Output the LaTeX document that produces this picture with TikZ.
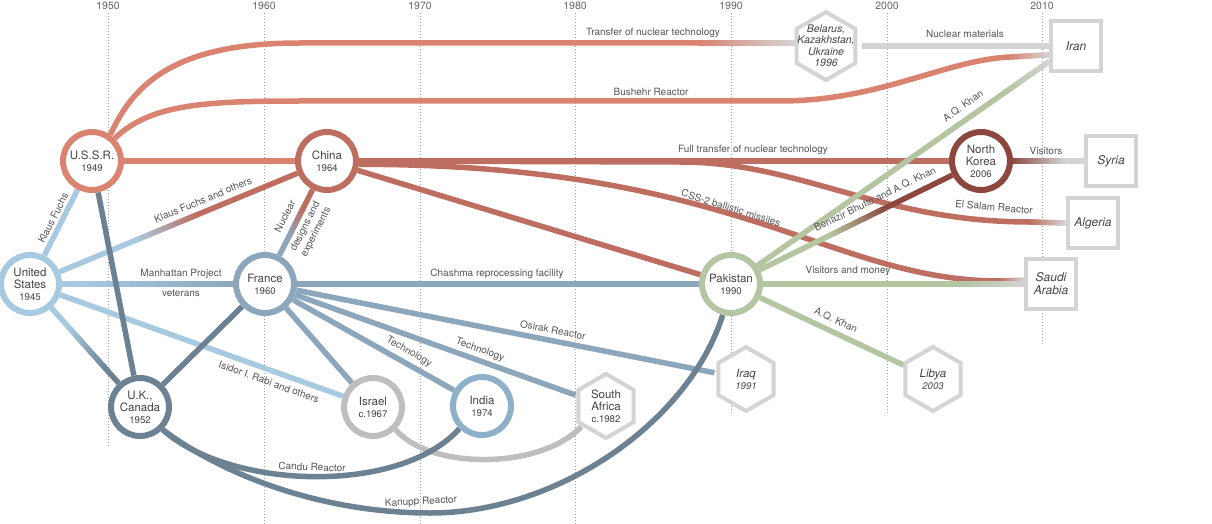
\documentclass[tikz,border=0pt]{standalone}
\usepackage{fontspec}
\setmainfont{TeX Gyre Heros}
\usetikzlibrary{calc}
\pgfdeclarelayer{grid}
\pgfdeclarelayer{edges}
\pgfdeclarelayer{shapes}
\pgfsetlayers{grid,edges,shapes,main}
\definecolor{ussrred}{HTML}{DA8371}
\definecolor{chinared}{HTML}{BE6E60}
\definecolor{nkbrown}{HTML}{8C483E}
\definecolor{pakgreen}{HTML}{B4C5A2}
\definecolor{frblue}{HTML}{8CA6BC}
\definecolor{usblue}{HTML}{A8CAE1}
\definecolor{ukslate}{HTML}{6C8293}
\definecolor{indiablue}{HTML}{8FB0C9}
\definecolor{isgray}{HTML}{BEBEBE}
\definecolor{boxgray}{HTML}{D4D4D4}
\definecolor{gridgray}{HTML}{A0A0A0}
\definecolor{nodetxt}{HTML}{444444}
\definecolor{lbltxt}{HTML}{555555}
\definecolor{yeartxt}{HTML}{666666}

\tikzset{
  conn/.style={line width=5.5pt},
  country/.style={circle, draw, fill=white, line width=6pt, minimum size=58pt, inner sep=0pt,
    align=center, text=nodetxt, font=\fontsize{11.5}{12}\selectfont},
  hexnode/.style={circle, minimum size=64pt, inner sep=0pt, align=center, text=nodetxt,
    font=\fontsize{11.5}{12}\selectfont\itshape},
  boxnode/.style={rectangle, draw=boxgray, fill=white, line width=4.5pt, minimum size=50pt,
    inner sep=0pt, align=center, text=nodetxt, font=\fontsize{12}{13}\selectfont\itshape},
  hexline/.style={draw=boxgray, fill=white, line width=4pt},
  lbl/.style={text=lbltxt, font=\fontsize{10}{12}\selectfont, inner sep=0pt, align=center},
  yearlbl/.style={text=yeartxt, font=\fontsize{10.5}{12}\selectfont, inner sep=0pt},
  gridline/.style={draw=gridgray, line width=0.7pt, dash pattern=on 0.8pt off 2.2pt},
}

\newcommand\yr[1]{{\fontsize{9.6}{12}\selectfont #1}}

% straight connector with a colour gradient between fractions #5 and #6
\newcommand\gradseg[6]{%
  \draw[conn,#3] (#1) -- ($(#1)!#5!(#2)$);%
  \draw[conn,#4] ($(#1)!#6!(#2)$) -- (#2);%
  \foreach \gk in {0,...,23}{%
    \pgfmathsetmacro\gradA{#5+(#6-#5)*(\gk-0.3)/24}%
    \pgfmathsetmacro\gradB{#5+(#6-#5)*(\gk+1.3)/24}%
    \pgfmathtruncatemacro\gradP{100*(\gk+0.5)/24}%
    \draw[conn,color=#4!\gradP!#3] ($(#1)!\gradA!(#2)$) -- ($(#1)!\gradB!(#2)$);%
  }%
}

\newcommand\drawhex[2]{\draw[hexline] ([shift={(90:#2)}]#1) -- ([shift={(30:#2)}]#1)
  -- ([shift={(-30:#2)}]#1) -- ([shift={(-90:#2)}]#1) -- ([shift={(-150:#2)}]#1)
  -- ([shift={(150:#2)}]#1) -- cycle;}

\begin{document}
\begin{tikzpicture}[x=1pt,y=-1pt]
\useasboundingbox (0,0) rectangle (1212,524);

% ---------- year grid ----------
\begin{pgfonlayer}{grid}
\foreach \gx/\gy/\ge in {108/1950/447, 264/1960/524, 420/1970/524, 575/1980/524,
                          731/1990/415, 887/2000/415, 1042/2010/345}{%
  \node[yearlbl] (yr\gy) at (\gx,5.5) {\gy};
  \draw[gridline] (\gx,13) -- (\gx,\ge);
}
\end{pgfonlayer}

% ---------- circle nodes ----------
\node[country,draw=ussrred]   (ussr)     at (92,161)  {U.S.S.R.\\\yr{1949}};
\node[country,draw=chinared]  (china)    at (327,161) {China\\\yr{1964}};
\node[country,draw=nkbrown]   (nk)       at (981,161) {North\\Korea\\\yr{2006}};
\node[country,draw=usblue]    (us)       at (30,284)  {United\\States\\\yr{1945}};
\node[country,draw=frblue]    (france)   at (265,284) {France\\\yr{1960}};
\node[country,draw=pakgreen]  (pakistan) at (731,284) {Pakistan\\\yr{1990}};
\node[country,draw=ukslate]   (uk)       at (140,407) {U.K.,\\Canada\\\yr{1952}};
\node[country,draw=isgray]    (israel)   at (373,407) {Israel\\\yr{c.1967}};
\node[country,draw=indiablue] (india)    at (482,406) {India\\\yr{1974}};

% ---------- hexagon nodes (text) ----------
\node[hexnode,minimum size=68pt,font=\fontsize{10.5}{11.5}\selectfont\itshape]
      (belarus) at (826,46) {Belarus,\\Kazakhstan,\\Ukraine\\1996};
\node[hexnode,font=\fontsize{11.5}{12}\selectfont] (sa) at (606,406) {South\\Africa\\\yr{c.1982}};
\node[hexnode] (iraq)  at (746,379) {Iraq\\\yr{1991}};
\node[hexnode] (libya) at (933,379) {Libya\\\yr{2003}};

% ---------- square nodes ----------
\node[boxnode] (iran)    at (1076,46)  {Iran};
\node[boxnode] (syria)   at (1111,161) {Syria};
\node[boxnode] (algeria) at (1093,223) {Algeria};
\node[boxnode] (saudi)   at (1051,284) {Saudi\\Arabia};

% ---------- connectors ----------
\begin{pgfonlayer}{edges}
% France (blue)
\draw[conn,frblue] (france) -- (pakistan);
\draw[conn,frblue] (france) -- (iraq);
\draw[conn,frblue] (france) -- (sa);
\draw[conn,frblue] (france) -- (india);
\draw[conn,frblue] (france) -- (israel);
\gradseg{france}{china}{frblue}{chinared}{0.38}{0.62}
% United States (light blue)
\draw[conn,usblue] (us) -- (ussr);
\draw[conn,usblue] (us) -- (israel);
\gradseg{us}{china}{usblue}{chinared}{0.36}{0.56}
\gradseg{us}{france}{usblue}{frblue}{0.2}{0.9}
\gradseg{us}{uk}{usblue}{ukslate}{0.35}{0.7}
% U.K./Canada (slate)
\draw[conn,ukslate] (ussr) -- (uk);
\draw[conn,ukslate] (france) -- (uk);
\draw[conn,isgray] (israel.-45) .. controls (430,470) and (540,470) .. (sa.-140);
\draw[conn,ukslate] (uk.-45) .. controls (230,490) and (400,495) .. (india.-135);
\draw[conn,ukslate] (uk.-45) .. controls (230,480) and (330,513) .. (430,513)
                     .. controls (560,513) and (690,420) .. (pakistan.-105);
% U.S.S.R. (red)
\coordinate (tr1) at (700,43);
\coordinate (bel) at ([yshift=3pt]belarus.center);
\draw[conn,ussrred] (ussr.55) .. controls (135,80) and (180,43) .. (300,43) -- (tr1);
\gradseg{tr1}{bel}{ussrred}{boxgray}{0}{0.75}
\draw[conn,boxgray] (belarus) -- (iran.west);
\coordinate (bu1) at (1010,57);
\draw[conn,ussrred] (ussr.45) .. controls (150,105) and (200,101) .. (300,101) -- (780,101)
                     .. controls (880,101) and (945,60) .. (bu1);
\gradseg{bu1}{iran.198}{ussrred}{boxgray}{0}{1}
\draw[conn,ussrred] (ussr) -- (china);
% China (red)
\draw[conn,chinared] (china) -- (nk);
\draw[conn,chinared] (china) -- (pakistan);
\coordinate (es1) at (1030,222);
\draw[conn,chinared] (china.east) -- (680,162) .. controls (800,162) and (880,222) .. (es1);
\gradseg{es1}{algeria.west}{chinared}{boxgray}{0}{1}
\coordinate (cs1) at (1000,281);
\draw[conn,chinared] (china.-6) .. controls (738,164) and (831,281) .. (cs1);
\gradseg{cs1}{saudi.172}{chinared}{boxgray}{0}{1}
% Pakistan (green)
\gradseg{pakistan}{iran.210}{pakgreen}{boxgray}{0.86}{1}
\gradseg{pakistan}{nk}{pakgreen}{nkbrown}{0.4}{0.62}
\gradseg{pakistan}{saudi.west}{pakgreen}{boxgray}{0.8}{1}
\draw[conn,pakgreen] (pakistan) -- (libya);
% North Korea
\gradseg{nk}{syria.west}{nkbrown}{boxgray}{0.3}{0.82}
\end{pgfonlayer}

% ---------- hexagon outlines ----------
\begin{pgfonlayer}{shapes}
\drawhex{belarus.center}{34}
\drawhex{sa.center}{32}
\drawhex{iraq.center}{32}
\drawhex{libya.center}{32}
\end{pgfonlayer}

% ---------- connector labels ----------
\node[lbl] (lTransfer) at (653,33) {Transfer of nuclear technology};
\node[lbl] (lNucMat) at (965,34) {Nuclear materials};
\node[lbl] (lBushehr) at (651,92) {Bushehr Reactor};
\node[lbl] (lFull) at (753,150) {Full transfer of nuclear technology};
\node[lbl,rotate=-17.5] (lCSS) at (731,208) {CSS-2 ballistic missiles};
\node[lbl,rotate=-5] (lElSalam) at (994,207) {El Salam Reactor};
\node[lbl,rotate=35] (lKhanA) at (963,106) {A.Q. Khan};
\node[lbl,rotate=26] (lBenazir) at (875,199) {Benazir Bhutto and A.Q. Khan};
\node[lbl] (lVisMoney) at (848,271) {Visitors and money};
\node[lbl,rotate=-25] (lKhanB) at (836,320) {A.Q. Khan};
\node[lbl] (lVisitors) at (1046,151) {Visitors};
\node[lbl] (lChashma) at (497,274) {Chashma reprocessing facility};
\node[lbl,rotate=-11.2] (lOsirak) at (553,330) {Osirak Reactor};
\node[lbl,rotate=-19.7] (lTechA) at (480,350) {Technology};
\node[lbl,rotate=-30] (lTechB) at (409,352) {Technology};
\node[lbl,rotate=63] (lNuclear) at (301,224.5) {Nuclear\\[10pt]designs and\\experiments};
\node[lbl,rotate=63] (lKlaus) at (53,218) {Klaus Fuchs};
\node[lbl,rotate=22.5] (lKlausOthers) at (203,200) {Klaus Fuchs and others};
\node[lbl] (lManhattan) at (181,274) {Manhattan Project};
\node[lbl] (lVeterans) at (181,293) {veterans};
\node[lbl,rotate=-19.7] (lRabi) at (269,382) {Isidor I. Rabi and others};
\node[lbl,rotate=-2] (lCandu) at (312,467) {Candu Reactor};
\node[lbl,rotate=3] (lKanupp) at (421,502) {Kanupp Reactor};
\end{tikzpicture}
\end{document}
